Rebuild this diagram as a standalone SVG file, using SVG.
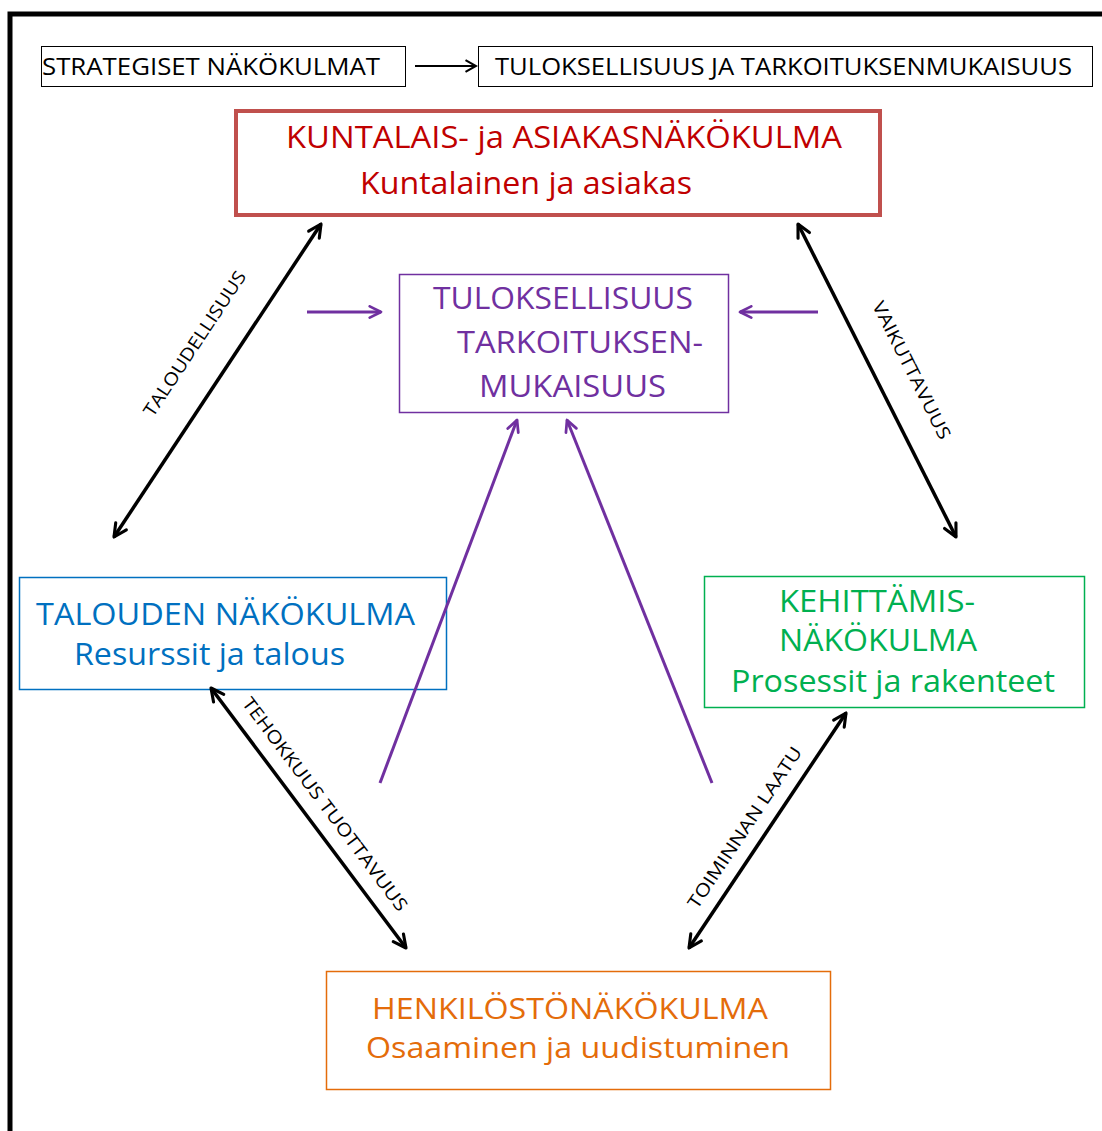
<svg xmlns="http://www.w3.org/2000/svg" width="1102" height="1131" viewBox="0 0 1102 1131">
<defs>
<marker id="ah" viewBox="0 0 12 12" refX="10.5" refY="6" markerWidth="17" markerHeight="17" markerUnits="userSpaceOnUse" orient="auto-start-reverse">
<path d="M1.5,1.5 L10.5,6 L1.5,10.5" fill="none" stroke="#000" stroke-width="2.2" stroke-linecap="round" stroke-linejoin="round"/>
</marker>
<marker id="ap" viewBox="0 0 12 12" refX="10.5" refY="6" markerWidth="15" markerHeight="15" markerUnits="userSpaceOnUse" orient="auto">
<path d="M1.5,1.5 L10.5,6 L1.5,10.5" fill="none" stroke="#7030a0" stroke-width="2.2" stroke-linecap="round" stroke-linejoin="round"/>
</marker>
<marker id="ab" viewBox="0 0 12 12" refX="10.5" refY="6" markerWidth="14" markerHeight="14" markerUnits="userSpaceOnUse" orient="auto">
<path d="M1.5,1 L10.5,6 L1.5,11" fill="none" stroke="#000" stroke-width="1.8"/>
</marker>
</defs>
<style>
text{font-family:"Open Sans","Noto Sans",sans-serif;}
.hdr{font-size:24px;fill:#000;}
.lbl{font-size:18px;fill:#000;}
.big{font-size:31px;}
.or{font-size:29px;fill:#e46c0a;}
.bk{fill:none;stroke:#000;stroke-width:3.5;}
.pp{fill:none;stroke:#7030a0;stroke-width:3;}
</style>
<rect width="1102" height="1131" fill="#fff"/>
<g id="frame"><path d="M10,1131 L10,14 L1102,14" fill="none" stroke="#000" stroke-width="5"/></g>

<g id="strategiset">
<rect x="41.5" y="46.5" width="364" height="40" fill="none" stroke="#000" stroke-width="1"/>
<text class="hdr" x="42" y="75" textLength="338" lengthAdjust="spacingAndGlyphs">STRATEGISET NÄKÖKULMAT</text>
</g>
<g id="tuloksellisuus-hdr">
<rect x="478.5" y="46.5" width="614" height="40" fill="none" stroke="#000" stroke-width="1"/>
<text class="hdr" x="495" y="75" textLength="577" lengthAdjust="spacingAndGlyphs">TULOKSELLISUUS JA TARKOITUKSENMUKAISUUS</text>
</g>

<g id="kuntalais">
<rect x="236" y="111" width="644" height="104" fill="none" stroke="#c0504d" stroke-width="4"/>
<text class="big" x="286" y="148" fill="#c00000" textLength="556" lengthAdjust="spacingAndGlyphs">KUNTALAIS- ja ASIAKASNÄKÖKULMA</text>
<text class="big" x="360" y="194" fill="#c00000" textLength="332" lengthAdjust="spacingAndGlyphs">Kuntalainen ja asiakas</text>
</g>

<g id="tuloksellisuus">
<rect x="399.5" y="274.5" width="329" height="138" fill="none" stroke="#7030a0" stroke-width="1.5"/>
<text class="big" x="433" y="309" fill="#7030a0" textLength="260" lengthAdjust="spacingAndGlyphs">TULOKSELLISUUS</text>
<text class="big" x="457" y="353" fill="#7030a0" textLength="246" lengthAdjust="spacingAndGlyphs">TARKOITUKSEN-</text>
<text class="big" x="479" y="397" fill="#7030a0" textLength="187" lengthAdjust="spacingAndGlyphs">MUKAISUUS</text>
</g>

<g id="talouden">
<rect x="19.5" y="577.5" width="427" height="112" fill="none" stroke="#0070c0" stroke-width="1.5"/>
<text class="big" x="36" y="625" fill="#0070c0" textLength="379" lengthAdjust="spacingAndGlyphs">TALOUDEN NÄKÖKULMA</text>
<text class="big" x="74" y="665" fill="#0070c0" textLength="271" lengthAdjust="spacingAndGlyphs">Resurssit ja talous</text>
</g>

<g id="kehittamis">
<rect x="704.5" y="576.5" width="380" height="131" fill="none" stroke="#00b050" stroke-width="1.5"/>
<text class="big" x="779" y="612" fill="#00b050" textLength="196" lengthAdjust="spacingAndGlyphs">KEHITTÄMIS-</text>
<text class="big" x="779" y="651" fill="#00b050" textLength="198" lengthAdjust="spacingAndGlyphs">NÄKÖKULMA</text>
<text class="big" x="731" y="692" fill="#00b050" textLength="324" lengthAdjust="spacingAndGlyphs">Prosessit ja rakenteet</text>
</g>

<g id="henkilosto">
<rect x="326.5" y="971.5" width="504" height="118" fill="none" stroke="#e46c0a" stroke-width="1.5"/>
<text class="or" x="372" y="1019" textLength="396" lengthAdjust="spacingAndGlyphs">HENKILÖSTÖNÄKÖKULMA</text>
<text class="or" x="366" y="1058" textLength="424" lengthAdjust="spacingAndGlyphs">Osaaminen ja uudistuminen</text>
</g>

<g id="connectors">
<line x1="415" y1="66" x2="476" y2="66" stroke="#000" stroke-width="2" marker-end="url(#ab)"/>
<line class="bk" x1="114" y1="537" x2="321" y2="224" marker-start="url(#ah)" marker-end="url(#ah)"/>
<line class="bk" x1="798" y1="224" x2="956" y2="537" marker-start="url(#ah)" marker-end="url(#ah)"/>
<line class="bk" x1="211" y1="688" x2="406" y2="948" marker-start="url(#ah)" marker-end="url(#ah)"/>
<line class="bk" x1="689" y1="948" x2="846" y2="713" marker-start="url(#ah)" marker-end="url(#ah)"/>
<line class="pp" x1="307" y1="312" x2="381" y2="312" marker-end="url(#ap)"/>
<line class="pp" x1="818" y1="312" x2="740" y2="312" marker-end="url(#ap)"/>
<line class="pp" x1="380" y1="783" x2="517" y2="420" marker-end="url(#ap)"/>
<line class="pp" x1="712" y1="783" x2="567" y2="420" marker-end="url(#ap)"/>
<text class="lbl" transform="translate(200,347) rotate(-56.5)" text-anchor="middle" textLength="170" lengthAdjust="spacingAndGlyphs">TALOUDELLISUUS</text>
<text class="lbl" transform="translate(906,373) rotate(63.2)" text-anchor="middle" textLength="152" lengthAdjust="spacingAndGlyphs">VAIKUTTAVUUS</text>
<text class="lbl" transform="translate(320,808) rotate(53.1)" text-anchor="middle" textLength="262" lengthAdjust="spacingAndGlyphs">TEHOKKUUS TUOTTAVUUS</text>
<text class="lbl" transform="translate(750,831) rotate(-56.3)" text-anchor="middle" textLength="190" lengthAdjust="spacingAndGlyphs">TOIMINNAN LAATU</text>
</g>
</svg>
